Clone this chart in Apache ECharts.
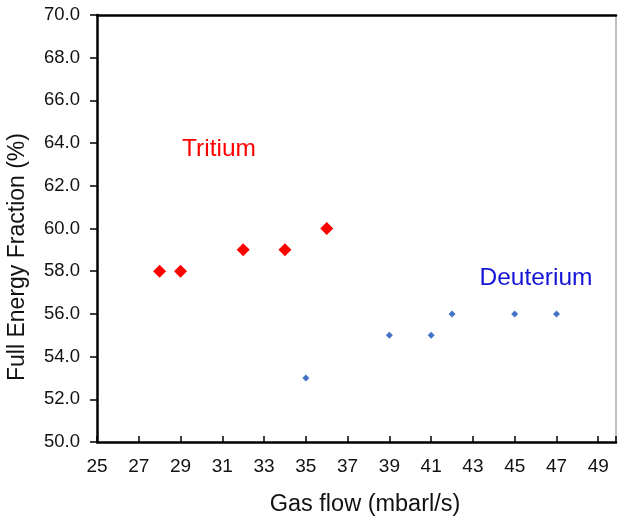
<!DOCTYPE html>
<html><head><meta charset="utf-8">
<script src="https://cdn.jsdelivr.net/npm/echarts@6/dist/echarts.min.js"></script>
<style>html,body{margin:0;padding:0;background:#fff}#c{width:619px;height:523px}</style>
</head><body><div id="c"></div>
<script>
// Data
const tritiumFlow = [28, 29, 32, 34, 36];
const tritiumFraction = [58, 58, 59, 59, 60];
const deuteriumFlow = [35, 39, 41, 42, 45, 47];
const deuteriumFraction = [53, 55, 55, 56, 56, 56];
const xStart = 25; // first x tick label
const xTitle = 'Gas flow (mbarl/s)';
const yTitle = 'Full Energy Fraction (%)';

const font = '"Liberation Sans", Arial, sans-serif';
const chart = echarts.init(document.getElementById('c'));
const toPts = (xs, ys) => xs.map((x, i) => [x - xStart, ys[i]]);

chart.setOption({
  animation: false,
  backgroundColor: '#fff',
  grid: { left: 97, top: 15, right: 2, bottom: 81 },
  xAxis: [{
    type: 'value', min: 0, max: 24.85, interval: 2,
    axisLine: { onZero: false, lineStyle: { color: '#000', width: 2.5 } },
    axisTick: { inside: true, length: 6, lineStyle: { color: '#000', width: 1.5 } },
    axisLabel: { fontFamily: font, fontSize: 19, color: '#111', margin: 15,
      formatter: v => (Math.abs(v % 2) < 1e-6 && v <= 24) ? String(v + xStart) : '' },
    splitLine: { show: false }
  }, {
    type: 'value', position: 'top', min: 0, max: 24.85,
    axisLine: { show: true, onZero: false, lineStyle: { color: '#000', width: 2.5 } },
    axisTick: { show: false }, axisLabel: { show: false }, splitLine: { show: false }
  }],
  yAxis: [{
    type: 'value', min: 50, max: 70, interval: 2,
    axisLine: { show: true, onZero: false, lineStyle: { color: '#000', width: 2.5 } },
    axisTick: { show: true, inside: false, length: 7, lineStyle: { color: '#000', width: 1.5 } },
    axisLabel: { fontFamily: font, fontSize: 18.5, color: '#111', margin: 17,
      formatter: v => v.toFixed(1) },
    splitLine: { show: false }
  }, {
    type: 'value', position: 'right', min: 50, max: 70,
    axisLine: { show: true, onZero: false, lineStyle: { color: '#aaa', width: 1.5 } },
    axisTick: { show: false }, axisLabel: { show: false }, splitLine: { show: false }
  }],
  series: [{
    name: 'Tritium', type: 'scatter', symbol: 'diamond', symbolSize: 13,
    itemStyle: { color: '#ff0000', opacity: 1 },
    data: toPts(tritiumFlow, tritiumFraction)
  }, {
    name: 'Deuterium', type: 'scatter', symbol: 'diamond', symbolSize: 7,
    itemStyle: { color: '#4472c4', opacity: 1 },
    data: toPts(deuteriumFlow, deuteriumFraction)
  }],
  graphic: [
    { type: 'text', x: 219, y: 149, style: { text: 'Tritium', fill: '#ff0000', font: '24.5px ' + font, textAlign: 'center', textVerticalAlign: 'middle' } },
    { type: 'text', x: 536, y: 278, style: { text: 'Deuterium', fill: '#1414d6', font: '24.5px ' + font, textAlign: 'center', textVerticalAlign: 'middle' } },
    { type: 'text', x: 365, y: 505, style: { text: xTitle, fill: '#111', font: '23.5px ' + font, textAlign: 'center', textVerticalAlign: 'middle' } },
    { type: 'text', x: 18, y: 257, rotation: Math.PI / 2, style: { text: yTitle, fill: '#111', font: '23px ' + font, textAlign: 'center', textVerticalAlign: 'middle' } }
  ]
});
</script></body></html>
